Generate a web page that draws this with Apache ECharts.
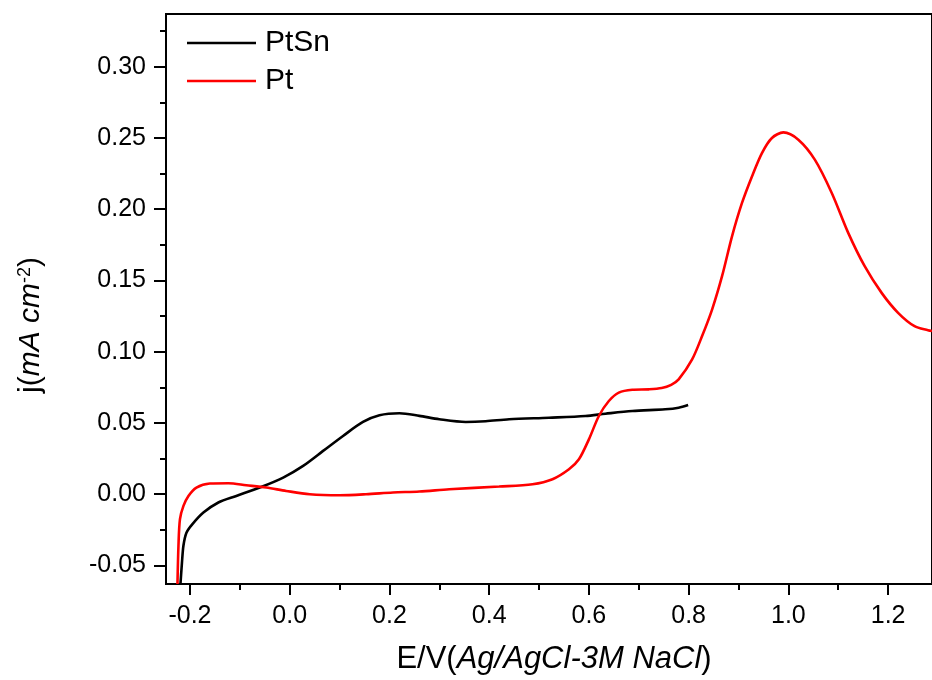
<!DOCTYPE html>
<html>
<head>
<meta charset="utf-8">
<script src="https://cdn.jsdelivr.net/npm/echarts@6/dist/echarts.min.js"></script>
<style>html,body{margin:0;padding:0;background:#fff;}#c{width:932px;height:680px;}</style>
</head>
<body>
<div id="c"></div>
<script>
// ---- data ----
const seriesNames = ['PtSn', 'Pt'];

const ptsnE = [-0.219, -0.216, -0.213, -0.207, -0.195, -0.173, -0.143, -0.107, -0.06, -0.013, 0.027, 0.067, 0.107, 0.147, 0.18, 0.22, 0.26, 0.30, 0.353, 0.393, 0.44, 0.52, 0.593, 0.633, 0.687, 0.753, 0.78, 0.799];
const ptsnJ = [-0.063, -0.048, -0.036, -0.027, -0.021, -0.0129, -0.0058, -0.0012, 0.0047, 0.0117, 0.0199, 0.0304, 0.0409, 0.0507, 0.0554, 0.0568, 0.0550, 0.0526, 0.0507, 0.0512, 0.0526, 0.0537, 0.0549, 0.0565, 0.0584, 0.0596, 0.0607, 0.0626];

const ptE = [-0.225, -0.223, -0.22, -0.213, -0.203, -0.187, -0.16, -0.123, -0.087, -0.047, -0.007, 0.04, 0.10, 0.153, 0.207, 0.26, 0.32, 0.42, 0.487, 0.527, 0.56, 0.58, 0.60, 0.62, 0.64, 0.66, 0.687, 0.72, 0.746, 0.765, 0.78, 0.807, 0.827, 0.847, 0.867, 0.887, 0.907, 0.927, 0.947, 0.967, 0.99, 1.02, 1.053, 1.087, 1.12, 1.153, 1.187, 1.22, 1.253, 1.28, 1.288];
const ptJ = [-0.063, -0.036, -0.0175, -0.0082, -0.0012, 0.0047, 0.0075, 0.0077, 0.0063, 0.0047, 0.0023, 0.0, -0.0007, 0.0, 0.0012, 0.0019, 0.0035, 0.0054, 0.0070, 0.0105, 0.0175, 0.0245, 0.0385, 0.0549, 0.0654, 0.0713, 0.0733, 0.0736, 0.0745, 0.0768, 0.0806, 0.0946, 0.1110, 0.1296, 0.1530, 0.1810, 0.2044, 0.2230, 0.2394, 0.2500, 0.2539, 0.2488, 0.2348, 0.2114, 0.1834, 0.1600, 0.1413, 0.1273, 0.1179, 0.1151, 0.1145];

const xTickLabels = [-0.2, 0.0, 0.2, 0.4, 0.6, 0.8, 1.0, 1.2];
const xMinorTicks = [-0.1, 0.1, 0.3, 0.5, 0.7, 0.9, 1.1];
const yTickLabels = [-0.05, 0.00, 0.05, 0.10, 0.15, 0.20, 0.25, 0.30];
const yMinorTicks = [-0.025, 0.025, 0.075, 0.125, 0.175, 0.225, 0.275, 0.325];

// ---- chart ----
const FONT = '"Liberation Sans", Arial, sans-serif';
const zip = (a, b) => a.map((v, i) => [v, b[i]]);

const chart = echarts.init(document.getElementById('c'), null, {renderer: 'canvas'});

const baseAxisLine = {show: true, onZero: false, lineStyle: {color: '#000', width: 2}};

chart.setOption({
  animation: false,
  backgroundColor: '#fff',
  grid: {left: 166, right: -2, top: 14, bottom: 95, show: true, borderColor: '#000', borderWidth: 2, backgroundColor: 'transparent', containLabel: false},
  legend: {
    data: seriesNames,
    orient: 'vertical',
    left: 187,
    top: 28,
    padding: 0,
    icon: 'rect',
    itemWidth: 69,
    itemHeight: 2.6,
    itemGap: 8,
    selectedMode: false,
    textStyle: {fontFamily: FONT, fontSize: 30, color: '#000', lineHeight: 30, padding: [0, 0, 0, 4]}
  },
  xAxis: [
    {
      type: 'value', min: -0.248, max: 1.288, position: 'bottom',
      axisLine: baseAxisLine,
      splitLine: {show: false},
      axisTick: {show: true, inside: false, length: 11, customValues: xTickLabels, lineStyle: {color: '#000', width: 2}},
      axisLabel: {customValues: xTickLabels, formatter: v => v.toFixed(1), fontFamily: FONT, fontSize: 25, color: '#000', margin: 20},
      name: 'E/V({i|Ag/AgCl-3M NaCl})',
      nameLocation: 'middle',
      nameGap: 60,
      nameTextStyle: {fontFamily: FONT, fontSize: 31, color: '#000', padding: [0, 0, 0, 10], rich: {i: {fontFamily: FONT, fontSize: 31, fontStyle: 'italic', color: '#000'}}}
    },
    {
      type: 'value', min: -0.248, max: 1.288, position: 'bottom',
      axisLine: {show: false, onZero: false},
      splitLine: {show: false},
      axisTick: {show: true, inside: false, length: 6, customValues: xMinorTicks, lineStyle: {color: '#000', width: 2}},
      axisLabel: {show: false, customValues: xMinorTicks}
    }
  ],
  yAxis: [
    {
      type: 'value', min: -0.063, max: 0.337, position: 'left',
      axisLine: baseAxisLine,
      splitLine: {show: false},
      axisTick: {show: true, inside: false, length: 12, customValues: yTickLabels, lineStyle: {color: '#000', width: 2}},
      axisLabel: {customValues: yTickLabels, formatter: v => v.toFixed(2), fontFamily: FONT, fontSize: 25, color: '#000', margin: 20},
      name: 'j({i|mA cm}{sup|-2})',
      nameLocation: 'middle',
      nameRotate: 90,
      nameGap: 120,
      nameTextStyle: {fontFamily: FONT, fontSize: 30, color: '#000', padding: [0, 52, 0, 0], rich: {
        i: {fontFamily: FONT, fontSize: 30, fontStyle: 'italic', color: '#000'},
        sup: {fontFamily: FONT, fontSize: 18, verticalAlign: 'top', color: '#000'}
      }}
    },
    {
      type: 'value', min: -0.063, max: 0.337, position: 'left',
      axisLine: {show: false, onZero: false},
      splitLine: {show: false},
      axisTick: {show: true, inside: false, length: 6, customValues: yMinorTicks, lineStyle: {color: '#000', width: 2}},
      axisLabel: {show: false, customValues: yMinorTicks}
    }
  ],
  series: [
    {
      name: seriesNames[0], type: 'line', xAxisIndex: 0, yAxisIndex: 0,
      data: zip(ptsnE, ptsnJ), showSymbol: false, symbol: 'none', smooth: 0.3,
      lineStyle: {color: '#000', width: 2.6}, itemStyle: {color: '#000'}, clip: true
    },
    {
      name: seriesNames[1], type: 'line', xAxisIndex: 0, yAxisIndex: 0,
      data: zip(ptE, ptJ), showSymbol: false, symbol: 'none', smooth: 0.3,
      lineStyle: {color: '#ff0000', width: 2.6}, itemStyle: {color: '#ff0000'}, clip: true
    }
  ]
});
</script>
</body>
</html>
